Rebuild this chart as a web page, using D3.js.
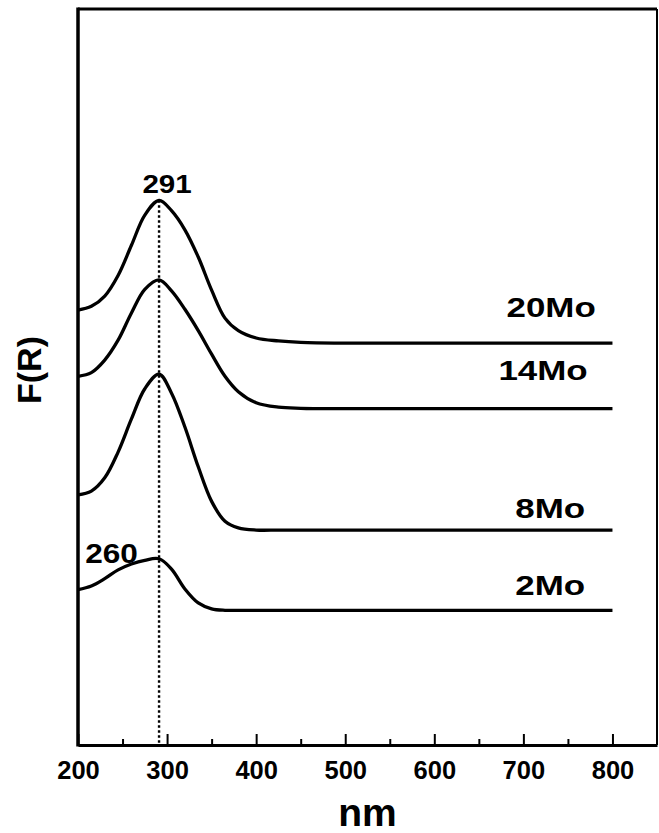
<!DOCTYPE html>
<html>
<head>
<meta charset="utf-8">
<script src="https://cdn.jsdelivr.net/npm/d3@7"></script>
<style>
  html, body { margin: 0; padding: 0; background: #fff; }
  svg { display: block; }
  text { font-family: "Liberation Sans", Arial, Helvetica, sans-serif; fill: #000; font-weight: bold; }
</style>
</head>
<body>
<svg id="chart" width="659" height="833"></svg>
<script>
// ---- data (arbitrary F(R) units, curves offset as in the original figure) ----
const wavelengths = [200, 215, 230, 245, 260, 275, 291, 305, 320, 335, 350, 365, 380, 400, 425, 450, 500, 600, 700, 800];
const seriesNames = ["20Mo", "14Mo", "8Mo", "2Mo"];
const s20Mo = [59.1, 59.6, 61.0, 63.8, 67.9, 72.0, 74.0, 72.6, 70.0, 66.3, 61.8, 58.0, 56.3, 55.3, 54.9, 54.7, 54.6, 54.6, 54.6, 54.6];
const s14Mo = [50.1, 50.6, 52.3, 55.0, 58.7, 61.9, 63.2, 61.7, 59.2, 56.3, 53.1, 50.1, 48.0, 46.5, 45.9, 45.75, 45.7, 45.7, 45.7, 45.7];
const s8Mo  = [34.0, 34.5, 36.3, 39.8, 44.3, 48.4, 50.4, 47.8, 43.2, 37.8, 33.1, 30.4, 29.5, 29.2, 29.2, 29.2, 29.2, 29.2, 29.2, 29.2];
const s2Mo  = [21.1, 21.6, 22.6, 23.8, 24.6, 25.1, 25.3, 23.9, 21.2, 19.3, 18.5, 18.3, 18.3, 18.3, 18.3, 18.3, 18.3, 18.3, 18.3, 18.3];
const xTicks = [200, 300, 400, 500, 600, 700, 800];
const xMinorTicks = [250, 350, 450, 550, 650, 750];
const peakMarker = 291;
const shoulderLabel = "260";
const xAxisTitle = "nm";
const yAxisTitle = "F(R)";

const allSeries = [s20Mo, s14Mo, s8Mo, s2Mo];

// ---- layout ----
const mLeft = 78, mRight = 657, mTop = 9, mBottom = 745;
const svg = d3.select("#chart");

const x = d3.scaleLinear().domain([200, 850]).range([mLeft, mRight]);
const y = d3.scaleLinear().domain([0, 100]).range([mBottom, mTop]);

// frame
const frame = svg.append("g").attr("fill", "none").attr("stroke", "#000");
frame.append("line").attr("x1", mLeft).attr("x2", mRight).attr("y1", mTop).attr("y2", mTop).attr("stroke-width", 3);
frame.append("line").attr("x1", mLeft).attr("x2", mLeft).attr("y1", mTop - 1.5).attr("y2", mBottom + 1.5).attr("stroke-width", 3.5);
frame.append("line").attr("x1", mRight).attr("x2", mRight).attr("y1", mTop).attr("y2", mBottom).attr("stroke-width", 2);

// bottom axis (ticks pointing inward)
const xAxis = d3.axisBottom(x).tickValues(xTicks).tickSizeInner(-11).tickSizeOuter(0).tickPadding(20).tickFormat(d3.format("d"));
const gx = svg.append("g").attr("transform", `translate(0,${mBottom})`).call(xAxis);
gx.select(".domain").attr("stroke-width", 3).attr("stroke", "#000");
gx.selectAll(".tick line").attr("stroke-width", 2).attr("stroke", "#000");
gx.selectAll(".tick text").attr("font-size", 25.5).attr("dy", "0.55em")
  .style("font-family", "'Liberation Sans', Arial, sans-serif").style("font-weight", "bold").attr("fill", "#000");

const minor = d3.axisBottom(x).tickValues(xMinorTicks).tickSizeInner(-6).tickSizeOuter(0).tickFormat("");
const gm = svg.append("g").attr("transform", `translate(0,${mBottom})`).call(minor);
gm.select(".domain").remove();
gm.selectAll(".tick line").attr("stroke-width", 2).attr("stroke", "#000");

// dotted marker line at 291 nm
svg.append("line")
  .attr("x1", x(peakMarker)).attr("x2", x(peakMarker))
  .attr("y1", y(d3.max(s20Mo))).attr("y2", mBottom)
  .attr("stroke", "#000").attr("stroke-width", 2.4)
  .attr("stroke-dasharray", "2.4,2.6");

// curves
const line = d3.line()
  .x((d, i) => x(wavelengths[i]))
  .y(d => y(d))
  .curve(d3.curveCatmullRom.alpha(0.5));

svg.append("g").selectAll("path")
  .data(allSeries)
  .join("path")
  .attr("d", d => line(d))
  .attr("fill", "none")
  .attr("stroke", "#000")
  .attr("stroke-width", 3.3)
  .attr("stroke-linejoin", "round");

// series labels (glyphs widened like the original typeface)
const labelPos = [
  { nm: 681, dy: -26 },
  { nm: 672, dy: -29 },
  { nm: 691, dy: -12 },
  { nm: 691, dy: -15 }
];
svg.append("g").selectAll("g")
  .data(seriesNames)
  .join("g")
  .attr("transform", (d, i) => `translate(${x(labelPos[i].nm)},${y(allSeries[i][allSeries[i].length - 1]) + labelPos[i].dy}) scale(1.27,1)`)
  .append("text")
  .attr("font-size", 27.5)
  .text(d => d);

// peak annotations
svg.append("g")
  .attr("transform", `translate(${x(peakMarker) + 8},${y(d3.max(s20Mo)) - 7}) scale(1.16,1)`)
  .append("text")
  .attr("text-anchor", "middle")
  .attr("font-size", 25.5)
  .text(String(peakMarker));

svg.append("g")
  .attr("transform", `translate(${x(208)},${y(d3.max(s2Mo)) + 4}) scale(1.17,1)`)
  .append("text")
  .attr("font-size", 27)
  .text(shoulderLabel);

// axis titles
svg.append("text")
  .attr("x", (mLeft + mRight) / 2).attr("y", 826)
  .attr("text-anchor", "middle")
  .attr("font-size", 39)
  .text(xAxisTitle);

svg.append("text")
  .attr("transform", `translate(41,${(mTop + mBottom) / 2 - 7}) rotate(-90)`)
  .attr("text-anchor", "middle")
  .attr("font-size", 34)
  .text(yAxisTitle);
</script>
</body>
</html>
